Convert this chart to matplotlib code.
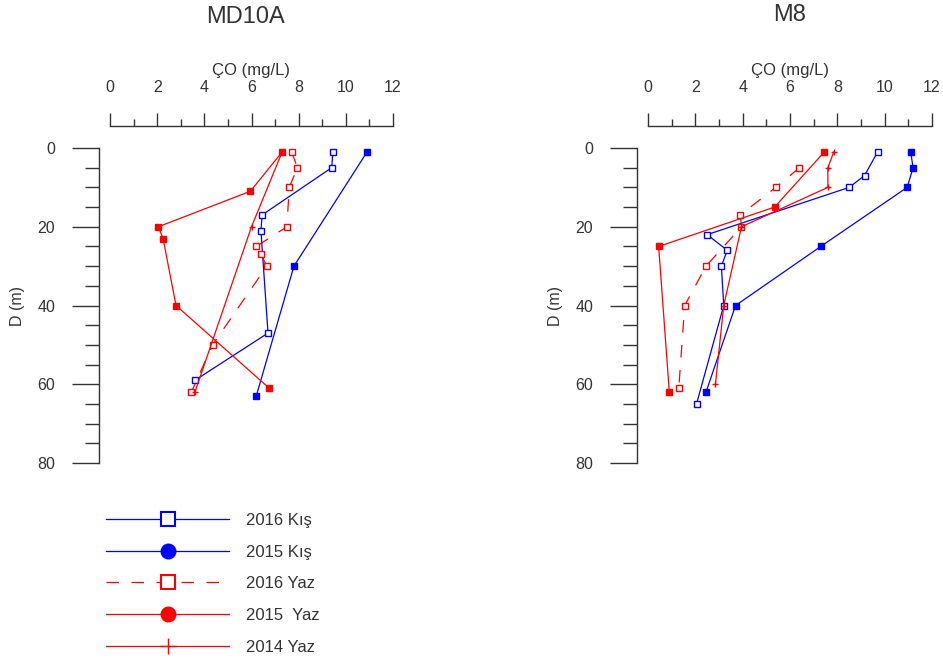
import matplotlib
matplotlib.use("Agg")
import matplotlib.pyplot as plt
from matplotlib.lines import Line2D
from matplotlib.ticker import MultipleLocator

plt.rcParams['font.family'] = ['Liberation Sans', 'DejaVu Sans']
plt.rcParams['text.color'] = '#333333'
plt.rcParams['axes.labelcolor'] = '#333333'

# MD10A profiles (CO mg/L vs depth m)
md_2016_kis_x = [9.45, 9.4, 6.45, 6.4, 6.7, 3.6]
md_2016_kis_d = [1, 5, 17, 21, 47, 59]
md_2015_kis_x = [10.9, 7.8, 6.2]
md_2015_kis_d = [1, 30, 63]
md_2016_yaz_x = [7.7, 7.95, 7.6, 7.5, 6.2, 6.4, 6.65, 4.35, 3.45]
md_2016_yaz_d = [1, 5, 10, 20, 25, 27, 30, 50, 62]
md_2015_yaz_x = [7.3, 5.95, 2.05, 2.25, 2.8, 6.75]
md_2015_yaz_d = [1, 11, 20, 23, 40, 61]
md_2014_yaz_x = [7.3, 6.0, 3.6]
md_2014_yaz_d = [1, 20, 62]

# M8 profiles
m8_2016_kis_x = [9.7, 9.15, 8.5, 2.5, 3.35, 3.1, 3.2, 2.05]
m8_2016_kis_d = [1, 7, 10, 22, 26, 30, 40, 65]
m8_2015_kis_x = [11.1, 11.2, 10.95, 7.3, 3.7, 2.45]
m8_2015_kis_d = [1, 5, 10, 25, 40, 62]
m8_2016_yaz_x = [6.4, 5.4, 3.9, 3.95, 2.45, 1.55, 1.3]
m8_2016_yaz_d = [5, 10, 17, 20, 30, 40, 61]
m8_2015_yaz_x = [7.45, 5.35, 0.45, 0.9]
m8_2015_yaz_d = [1, 15, 25, 62]
m8_2014_yaz_x = [7.85, 7.6, 7.6, 3.95, 3.2, 2.85]
m8_2014_yaz_d = [1, 5, 10, 20, 40, 60]

labels = ['2016 Kış', '2015 Kış', '2016 Yaz', '2015  Yaz', '2014 Yaz']

styles = [
    dict(color='blue', ls='-', marker='s', mfc='white', mec='blue'),
    dict(color='blue', ls='-', marker='s', mfc='blue', mec='blue'),
    dict(color='red', ls=(0, (10, 10)), marker='s', mfc='white', mec='red'),
    dict(color='red', ls='-', marker='s', mfc='red', mec='red'),
    dict(color='red', ls='-', marker='+', mfc='red', mec='red'),
]

W, H = 943, 664
fig = plt.figure(figsize=(W / 100, H / 100), dpi=100)


def setup_axes(ax):
    ax.set_xlim(0, 12)
    ax.set_ylim(80, 0)
    ax.xaxis.tick_top()
    ax.xaxis.set_label_position('top')
    ax.spines['right'].set_visible(False)
    ax.spines['bottom'].set_visible(False)
    ax.spines['top'].set_position(('outward', 16))
    ax.spines['left'].set_position(('outward', 8))
    for s in ('top', 'left'):
        ax.spines[s].set_color('#333333')
        ax.spines[s].set_linewidth(1.0)
    ax.xaxis.set_major_locator(MultipleLocator(2))
    ax.xaxis.set_minor_locator(MultipleLocator(1))
    ax.yaxis.set_major_locator(MultipleLocator(20))
    ax.yaxis.set_minor_locator(MultipleLocator(5))
    ax.tick_params(axis='x', which='major', direction='out', length=9.4, width=1,
                   pad=13, labelsize=11.5, colors='#333333')
    ax.tick_params(axis='x', which='minor', direction='out', length=5, width=1,
                   colors='#333333')
    ax.tick_params(axis='y', which='major', direction='out', length=19.5, width=1,
                   pad=12, labelsize=11.5, colors='#333333')
    ax.tick_params(axis='y', which='minor', direction='out', length=10, width=1,
                   colors='#333333')
    ax.set_xlabel('ÇO (mg/L)', fontsize=12, labelpad=3)
    ax.set_ylabel('D (m)', fontsize=11.5, labelpad=9)


def draw(ax, series):
    for (x, d), st in zip(series, styles):
        ax.plot(x, d, lw=0.9, ms=5, mew=1, clip_on=False, **st)


ax1 = fig.add_axes([110 / W, 1 - 463 / H, 283 / W, 315 / H])
setup_axes(ax1)
draw(ax1, [(md_2016_kis_x, md_2016_kis_d), (md_2015_kis_x, md_2015_kis_d),
           (md_2016_yaz_x, md_2016_yaz_d), (md_2015_yaz_x, md_2015_yaz_d),
           (md_2014_yaz_x, md_2014_yaz_d)])

ax2 = fig.add_axes([648 / W, 1 - 463 / H, 284 / W, 315 / H])
setup_axes(ax2)
draw(ax2, [(m8_2016_kis_x, m8_2016_kis_d), (m8_2015_kis_x, m8_2015_kis_d),
           (m8_2016_yaz_x, m8_2016_yaz_d), (m8_2015_yaz_x, m8_2015_yaz_d),
           (m8_2014_yaz_x, m8_2014_yaz_d)])

fig.text(245 / W, 1 - 17 / H, 'MD10A', ha='center', va='center', fontsize=17)
fig.text(790 / W, 1 - 15 / H, 'M8', ha='center', va='center', fontsize=17)

# legend with larger markers
leg_markers = ['s', 'o', 's', 'o', '+']
handles = []
for st, m in zip(styles, leg_markers):
    st = dict(st)
    st['marker'] = m
    handles.append(Line2D([], [], lw=0.9, ms=10 if m != '+' else 12,
                          mew=1.5 if m != '+' else 1, **st))
fig.legend(handles, labels, loc='upper left', bbox_to_anchor=(106 / W, 1 - 513 / H),
           frameon=False, fontsize=12, handlelength=7.4, handletextpad=1.0,
           labelspacing=1.0, borderpad=0, borderaxespad=0)

fig.savefig('out.png', dpi=100)
